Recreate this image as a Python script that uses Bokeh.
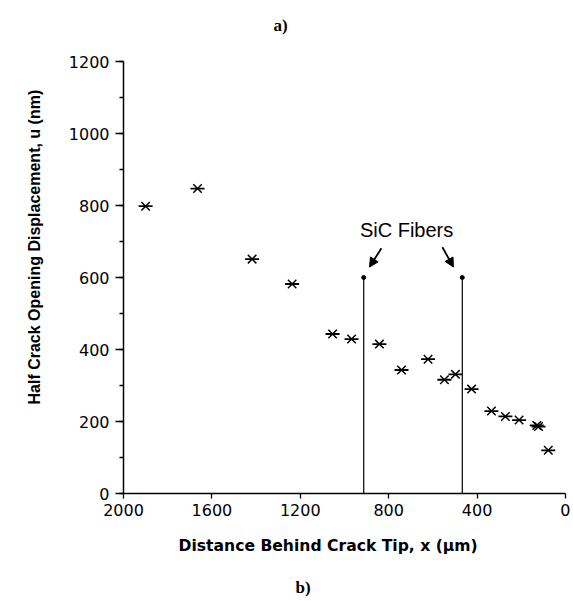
from bokeh.plotting import figure
from bokeh.models import Range1d, SingleIntervalTicker, Label, Arrow, NormalHead, ColumnDataSource, Title
from bokeh.embed import file_html
from bokeh.resources import INLINE

# Data
distance_um = [1900, 1665, 1418, 1237, 1054, 968, 842, 742, 622, 548, 498, 425, 335, 272, 210, 130, 122, 78]
cod_nm = [798, 847, 651, 582, 443, 429, 415, 343, 373, 316, 331, 290, 229, 214, 204, 189, 186, 120]
fiber_x = [913, 467]
fiber_top = [600, 600]
x_ticks_interval = 400
y_ticks_interval = 200

p = figure(width=570, height=601, output_backend="svg", toolbar_location=None,
           x_range=Range1d(2000, 0), y_range=Range1d(0, 1200),
           min_border_left=123, min_border_right=5, min_border_top=61, min_border_bottom=107)
p.outline_line_color = None
p.xgrid.visible = False
p.ygrid.visible = False
p.background_fill_color = "white"
p.border_fill_color = "white"

p.xaxis.ticker = SingleIntervalTicker(interval=x_ticks_interval, num_minor_ticks=0)
p.yaxis.ticker = SingleIntervalTicker(interval=y_ticks_interval, num_minor_ticks=2)
for ax in (p.xaxis, p.yaxis):
    ax.axis_line_color = "black"
    ax.axis_line_width = 1.5
    ax.major_tick_line_color = "black"
    ax.major_tick_line_width = 1.3
    ax.minor_tick_line_color = "black"
    ax.minor_tick_line_width = 1.3
    ax.major_tick_in = 0
    ax.minor_tick_in = 0
    ax.major_label_text_font = "DejaVu Sans"
    ax.major_label_text_font_size = "16px"
    ax.major_label_text_color = "black"
p.xaxis.major_tick_out = 5
p.xaxis.major_label_standoff = 5
p.yaxis.major_tick_out = 8
p.yaxis.minor_tick_out = 4
p.yaxis.major_label_standoff = 6

src = ColumnDataSource(dict(x=distance_um, y=cod_nm))
p.scatter("x", "y", source=src, marker="x", size=12, line_color="black", line_width=1.5)
p.scatter("x", "y", source=src, marker="dash", size=14, line_color="black", line_width=1.8)

fsrc = ColumnDataSource(dict(x=fiber_x, y0=[0, 0], y1=fiber_top))
p.segment(x0="x", y0="y0", x1="x", y1="y1", source=fsrc, line_color="black", line_width=1.2)
p.scatter("x", "y1", source=fsrc, marker="circle", size=4, fill_color="black", line_color="black")

p.add_layout(Label(x=719, y=731, text="SiC Fibers", text_align="center", text_baseline="middle",
                   text_font="Liberation Sans", text_font_size="20px", text_color="black"))
p.add_layout(Arrow(x_start=833, y_start=681, x_end=887, y_end=629, line_width=1.8, line_color="black",
                   end=NormalHead(size=9, fill_color="black", line_color="black")))
p.add_layout(Arrow(x_start=557, y_start=684, x_end=507, y_end=629, line_width=1.8, line_color="black",
                   end=NormalHead(size=9, fill_color="black", line_color="black")))

# Axis titles and panel letters
p.add_layout(Title(text=" ", text_font_size="1px", standoff=24), "above")  # spacer
p.add_layout(Title(text="a)", align="left", offset=150, standoff=0, text_font="Liberation Serif",
                   text_font_style="bold", text_font_size="17px", text_color="black"), "above")
p.add_layout(Title(text="Half Crack Opening Displacement, u (nm)", align="left", offset=89, standoff=46,
                   text_font="Liberation Sans", text_font_style="bold", text_font_size="16px",
                   text_color="black"), "left")
p.add_layout(Title(text="Distance Behind Crack Tip, x (\u00b5m)", align="left", offset=55, standoff=32,
                   text_font="DejaVu Sans", text_font_style="bold", text_font_size="15.6px",
                   text_color="black"), "below")
p.add_layout(Title(text="b)", align="left", offset=172, standoff=10, text_font="Liberation Serif",
                   text_font_style="bold", text_font_size="17px", text_color="black"), "below")

open("out.html", "w").write(file_html(p, INLINE))
